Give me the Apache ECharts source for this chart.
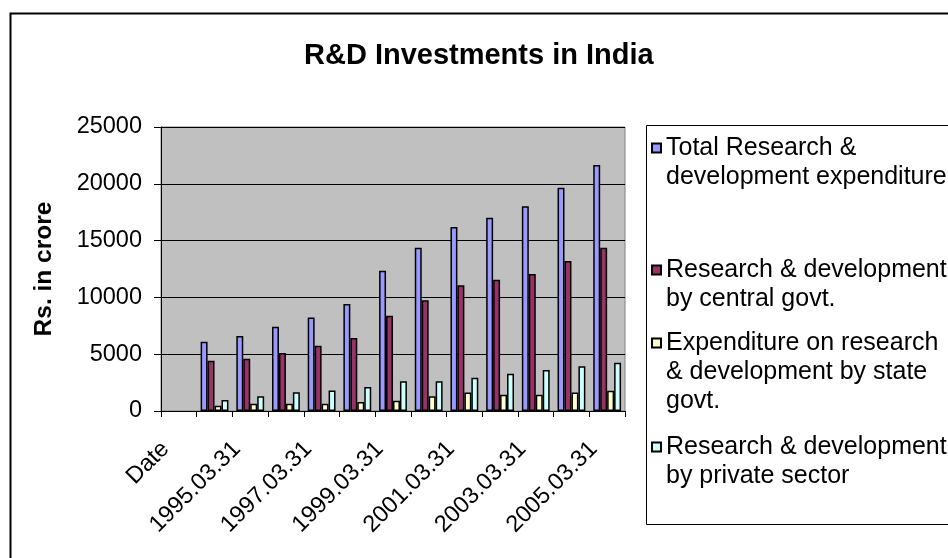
<!DOCTYPE html>
<html>
<head>
<meta charset="utf-8">
<script src="https://cdn.jsdelivr.net/npm/echarts@6/dist/echarts.min.js"></script>
<style>
html,body{margin:0;padding:0;background:#fff;}
#chart{width:948px;height:558px;}
</style>
</head>
<body>
<div id="chart"></div>
<script>
var categories = ['Date','1994.03.31','1995.03.31','1996.03.31','1997.03.31','1998.03.31','1999.03.31','2000.03.31','2001.03.31','2002.03.31','2003.03.31','2004.03.31','2005.03.31'];
var totalRD   = [null, 6100, 6600, 7420, 8220, 9420, 12350, 14380, 16200, 17020, 18020, 19660, 21650];
var centralRD = [null, 4430, 4600, 5100, 5750, 6430, 8390, 9740, 11060, 11560, 12060, 13200, 14380];
var stateRD   = [null, 470, 640, 640, 640, 790, 910, 1290, 1620, 1440, 1440, 1620, 1790];
var privateRD = [null, 970, 1290, 1640, 1800, 2110, 2610, 2610, 2930, 3290, 3610, 3930, 4250];
var yTicks = [0, 5000, 10000, 15000, 20000, 25000];

var names = [
  'Total Research &\ndevelopment expenditure',
  'Research & development\nby central govt.',
  'Expenditure on research\n& development by state\ngovt.',
  'Research & development\nby private sector'
];
var colors = ['#9999FF', '#993366', '#FFFFCC', '#CCFFFF'];
var values = [totalRD, centralRD, stateRD, privateRD];

var FONT = '"Liberation Sans", Arial, sans-serif';
var LH = 29;
var SQ = 9;
var firstLineY = [148, 270, 343, 447];

var chart = echarts.init(document.getElementById('chart'));

var legends = names.map(function (n, i) {
  var lines = n.split('\n').length;
  var H = SQ + (lines - 1) * LH;
  // square at the top of a tall, otherwise empty icon box so the square sits beside the first line
  var icon = 'path://M0,0L' + SQ + ',0L' + SQ + ',' + SQ + 'L0,' + SQ + 'Z M4.5,' + H + 'L4.5,' + (H - 0.01);
  return {
    data: [n],
    left: 651,
    top: firstLineY[i] - LH / 2,
    padding: 0,
    orient: 'vertical',
    icon: icon,
    itemWidth: SQ,
    itemHeight: H,
    itemGap: 0,
    textStyle: {
      fontFamily: FONT,
      fontSize: 25,
      color: '#000',
      lineHeight: LH
    }
  };
});

var series = names.map(function (n, i) {
  return {
    name: n,
    type: 'bar',
    data: values[i],
    barGap: '0%',
    barCategoryGap: '22%',
    itemStyle: { color: colors[i], borderColor: '#000', borderWidth: 1.5 }
  };
});

chart.setOption({
  animation: false,
  backgroundColor: '#fff',
  title: {
    text: 'R&D Investments in India',
    left: 304,
    top: 41,
    padding: 0,
    textStyle: { fontFamily: FONT, fontSize: 29, fontWeight: 'bold', color: '#000' }
  },
  graphic: [
    { type: 'rect', left: 8, top: 11, silent: true, z: -10,
      shape: { width: 960, height: 570 },
      style: { fill: 'none', stroke: '#000', lineWidth: 2 } },
    { type: 'rect', left: 646, top: 125, silent: true, z: -10,
      shape: { width: 320, height: 399 },
      style: { fill: '#fff', stroke: '#000', lineWidth: 1 } }
  ],
  legend: legends,
  grid: {
    left: 161, top: 127, right: 323, bottom: 147,
    show: true, backgroundColor: '#C0C0C0', borderColor: '#808080', borderWidth: 1,
    containLabel: false
  },
  xAxis: {
    type: 'category',
    data: categories,
    boundaryGap: true,
    axisLine: { show: true, lineStyle: { color: '#000', width: 1 } },
    axisTick: { show: true, interval: 0, length: 6, lineStyle: { color: '#000' } },
    axisLabel: {
      interval: 1, rotate: 45, margin: 21, padding: [0, 19, 0, 0],
      fontFamily: FONT, fontSize: 23.5, color: '#000'
    },
    splitLine: { show: false }
  },
  yAxis: {
    type: 'value',
    min: yTicks[0], max: yTicks[yTicks.length - 1], interval: 5000,
    name: 'Rs. in crore',
    nameLocation: 'middle',
    nameGap: 104,
    nameRotate: 90,
    nameTextStyle: { fontFamily: FONT, fontSize: 24.5, fontWeight: 'bold', color: '#000' },
    axisLine: { show: true, lineStyle: { color: '#000', width: 1 } },
    axisTick: { show: true, length: 7, lineStyle: { color: '#000' } },
    axisLabel: {
      margin: 19, fontFamily: FONT, fontSize: 23.5, color: '#000',
      formatter: function (v) { return String(v); }
    },
    splitLine: { show: true, lineStyle: { color: '#000', width: 1 } }
  },
  series: series
});
</script>
</body>
</html>
